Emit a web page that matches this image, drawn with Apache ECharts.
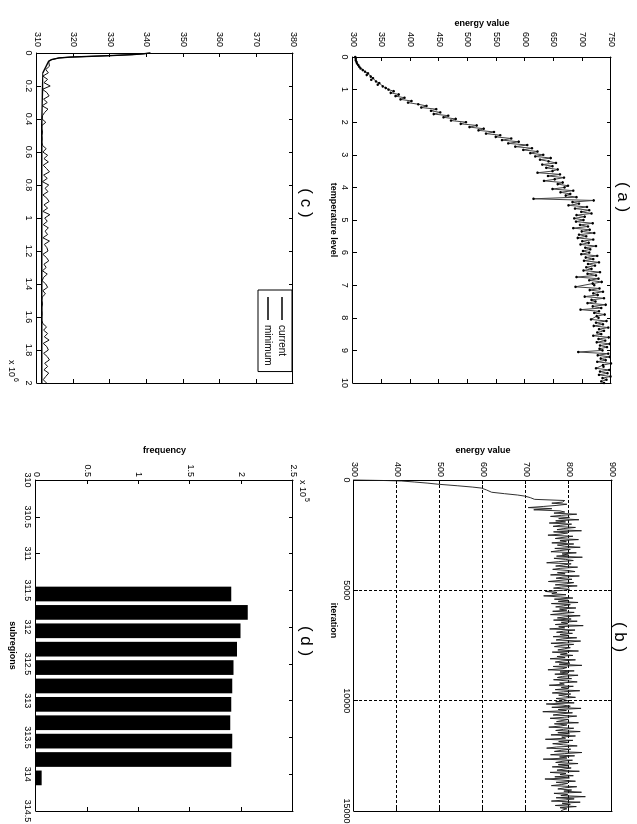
<!DOCTYPE html>
<html><head><meta charset="utf-8">
<script src="https://cdn.jsdelivr.net/npm/echarts@6/dist/echarts.min.js"></script>
<style>
html,body{margin:0;padding:0;background:#fff;overflow:hidden;width:637px;height:824px;}
#chart{position:absolute;left:0;top:0;width:824px;height:637px;transform-origin:0 0;transform:translate(637px,0) rotate(90deg);background:#fff;}
</style></head><body><div id="chart"></div>
<script>
// ---------- panel (a): energy value vs temperature level ----------
const aStep = 0.05;
const aEnergy = [
304,305,305,306,307,309,311,313,317,321,
326,324,331,335,332,340,346,343,352,357,
362,371,366,380,374,390,383,402,396,414,
428,419,445,436,452,441,466,458,479,471,
497,488,516,503,528,519,546,532,557,549,
576,560,589,571,604,583,612,597,622,609,
632,618,645,626,641,654,630,648,637,657,
648,622,661,640,668,652,633,666,657,675,
669,648,684,662,679,671,690,615,720,683,
694,676,708,687,712,698,716,690,704,686,
702,689,718,696,710,684,713,699,721,694,
707,692,719,700,711,697,724,705,714,701,
712,698,726,706,719,703,729,710,722,707,
716,702,731,709,724,690,728,712,734,718,
721,688,730,713,736,719,727,704,738,716,
723,709,741,718,733,697,729,721,739,725,
728,715,742,724,736,720,745,729,738,726,
733,719,746,728,740,725,748,731,743,730,
735,693,745,727,748,732,741,726,750,736,
737,724,747,731,744,729,749,735,742,733,
738];
const aXTicks = [0,1,2,3,4,5,6,7,8,9,10];
const aYTicks = [300,350,400,450,500,550,600,650,700,750];

// ---------- panel (b): energy value vs iteration ----------
const bEarlyIter   = [0, 10, 25, 45, 90, 140, 190, 260, 320, 365, 450, 555, 620, 680, 730, 800, 877, 930];
const bEarlyEnergy = [300,330,375,410,440,470,495,540,575,596,608,620,650,680,697,710,720,790];
const bStart = 1000, bStep = 50;
const bEnergy = [
785,760,795,772,740,705,760,718,779,790,765,818,783,757,801,776,823,769,792,754,
806,781,763,815,788,772,829,764,797,781,751,809,786,768,822,779,794,760,811,773,
789,826,767,803,778,758,817,784,799,771,831,765,792,810,776,748,805,787,769,820,
781,762,798,814,773,791,757,824,786,770,807,779,752,811,795,768,819,783,764,801,
788,745,772,760,793,741,780,809,766,798,775,821,759,803,787,769,816,778,795,762,
812,784,757,826,791,773,805,764,819,782,797,768,833,776,790,755,814,787,771,808,
779,799,763,818,785,770,827,794,758,811,781,766,803,789,774,822,761,796,780,809,
772,791,756,815,784,768,802,777,830,763,795,786,751,812,779,798,767,821,785,773,
806,764,793,819,778,789,754,810,782,799,768,825,787,761,804,776,792,815,770,788,
797,769,812,747,786,803,760,828,775,794,739,808,781,763,818,790,756,799,784,771,
822,766,795,780,753,811,787,769,826,774,801,758,815,783,792,745,809,776,797,762,
787,819,771,748,804,782,766,830,789,757,813,778,795,740,808,784,769,821,775,798,
761,805,788,772,824,756,793,779,810,767,801,744,786,815,770,797,783,759,818,790,
774,806,788,829,765,797,781,838,770,812,791,759,826,784,803,768,817,779,795,786,
781];
const bXTicks = [0,5000,10000,15000];
const bYTicks = [300,400,500,600,700,800,900];

// ---------- panel (c): current / minimum ----------
const cEarlyX       = [0,5000,10000,15000,20000,25000,30000,40000,50000,60000,80000];
const cEarlyCurrent = [341,339,336,331,325,319,316,314,313.2,312.8,313.4];
const cStart = 100000, cStep = 20000;
const cCurrent = [
312.4,313.1,311.6,312.9,311.9,313.6,311.5,312.7,313.3,311.8,
312.8,311.4,313.0,312.1,311.5,311.4,312.4,311.3,311.3,311.5,
311.3,311.4,311.3,311.5,312.5,311.6,312.9,311.9,313.1,311.7,
312.6,313.4,311.8,312.8,311.5,313.2,312.2,313.0,311.6,312.7,
313.3,311.9,312.9,311.6,313.5,312.1,312.8,311.7,313.1,312.2,
312.9,311.6,313.4,312.0,312.7,313.0,311.6,312.6,313.2,311.9,
312.5,311.5,312.8,311.8,311.4,312.4,312.9,311.6,312.3,311.4,
311.3,311.5,311.3,311.3,311.4,311.3,311.3,311.6,312.6,311.8,
312.9,312.0,313.3,311.7,312.7,313.1,311.8,312.8,313.4,312.1,
312.9,311.9,313.2,312.4,311.7,312.6];
const cMinX = [0,5000,10000,15000,20000,25000,30000,40000,50000,60000,120000,220000,320000,440000,2000000];
const cMinY = [341,339,336,331,325,319,316,314,313.2,312.8,311.6,311.5,311.4,311.3,311.3];
const cXTicks = [0,200000,400000,600000,800000,1000000,1200000,1400000,1600000,1800000,2000000];
const cYTicks = [310,320,330,340,350,360,370,380];
const cLegend = ['current','minimum'];

// ---------- panel (d): histogram of subregions ----------
const dCenters = [311.55,311.80,312.05,312.30,312.55,312.80,313.05,313.30,313.55,313.80,314.05];
const dFreq    = [190000,206000,199000,195500,192000,191000,190000,189000,191000,190000,5500];
const dXTicks = [310,310.5,311,311.5,312,312.5,313,313.5,314,314.5];
const dYTicks = [0,50000,100000,150000,200000,250000];

// ---------- build ----------
const FF = "'Liberation Sans', Arial, Helvetica, sans-serif";
const aData = aEnergy.map((v,i)=>[+(i*aStep).toFixed(3), v]);
const bData = bEarlyIter.map((t,i)=>[t,bEarlyEnergy[i]]).concat(bEnergy.map((v,i)=>[bStart+i*bStep, v]));
const cCurData = cEarlyX.map((t,i)=>[t,cEarlyCurrent[i]]).concat(cCurrent.map((v,i)=>[cStart+i*cStep, v]));
const cMinData = cMinX.map((t,i)=>[t,cMinY[i]]);
const dData = dCenters.map((c,i)=>[c,dFreq[i]]);
const dBarWidth = 0.2;
const plain = v => String(+(+v).toFixed(4));

const xAxes = [], yAxes = [];
function lineS(){return {color:'#000',width:1};}
function addAxes(g, xt, yt, o){
  const tick = {show:true,inside:true,length:4,lineStyle:lineS()};
  const lbl = (m,f)=>({show:true,margin:m,fontSize:9,color:'#000',fontFamily:FF,showMinLabel:true,showMaxLabel:true,formatter:f||plain});
  const nameStyle = Object.assign({fontSize:9,fontWeight:'bold',color:'#000',fontFamily:FF}, o.nsx||{});
  const grid = o.grid ? {show:true,lineStyle:{color:'#000',width:1,type:[3,2]}} : {show:false};
  const sx = {min:xt[0],max:xt[xt.length-1],interval:xt[1]-xt[0]};
  const sy = {min:yt[0],max:yt[yt.length-1],interval:yt[1]-yt[0]};
  xAxes.push(Object.assign({type:'value',gridIndex:g,position:'bottom',
    axisLine:{show:true,onZero:false,lineStyle:lineS()},axisTick:tick,
    axisLabel:lbl(o.xm,o.xf),splitLine:grid,
    name:o.xn||'',nameLocation:'middle',nameGap:o.xg||15,nameTextStyle:nameStyle},sx));
  xAxes.push(Object.assign({type:'value',gridIndex:g,position:'top',
    axisLine:{show:true,onZero:false,lineStyle:lineS()},axisTick:tick,
    axisLabel:{show:false},splitLine:{show:false}},sx));
  yAxes.push(Object.assign({type:'value',gridIndex:g,position:'left',
    axisLine:{show:true,onZero:false,lineStyle:lineS()},axisTick:tick,
    axisLabel:lbl(o.ym,o.yf),splitLine:grid,
    name:o.yn||'',nameLocation:'middle',nameGap:o.yg||25,
    nameTextStyle:{fontSize:9,fontWeight:'bold',color:'#000',fontFamily:FF}},sy));
  yAxes.push(Object.assign({type:'value',gridIndex:g,position:'right',
    axisLine:{show:true,onZero:false,lineStyle:lineS()},axisTick:tick,
    axisLabel:{show:false},splitLine:{show:false}},sy));
}
addAxes(0,aXTicks,aYTicks,{xm:4,ym:10,xn:'temperature level',xg:15,yn:'energy value',yg:27});
addAxes(1,bXTicks,bYTicks,{xm:3,ym:3,xn:'iteration',xg:16,yn:'energy value',yg:25,grid:true,nsx:{padding:[0,50,0,0]}});
addAxes(2,cXTicks,cYTicks,{xm:4,ym:6,xf:v=>String(+(v/1e6).toFixed(4))});
addAxes(3,dXTicks,dYTicks,{xm:4,ym:3,xn:'subregions',xg:19,yn:'frequency',yg:25,yf:v=>String(+(v/1e5).toFixed(4))});

function txt(x,y,s,size,align,va,extra){
  return {type:'text',x:x,y:y,z:100,style:Object.assign({text:s,fontSize:size,fontFamily:FF,fill:'#000',align:align||'center',verticalAlign:va||'middle'},extra||{})};
}

const option = {
  animation:false,
  backgroundColor:'#fff',
  grid:[
    {left:57,top:26,width:326,height:258,containLabel:false,outerBoundsMode:'none'},
    {left:480,top:25,width:331,height:258,containLabel:false,outerBoundsMode:'none'},
    {left:53,top:344,width:330,height:256,containLabel:false,outerBoundsMode:'none'},
    {left:480,top:344,width:331,height:257,containLabel:false,outerBoundsMode:'none'}
  ],
  xAxis:xAxes, yAxis:yAxes,
  legend:{data:cLegend.map(n=>({name:n,icon:'rect'})),left:290,top:345,orient:'vertical',itemWidth:23,itemHeight:1.5,itemGap:4,
    padding:[5,6,5,7],borderColor:'#000',borderWidth:1,backgroundColor:'#fff',
    itemStyle:{color:'#000',borderWidth:0},
    textStyle:{fontSize:10,color:'#000',fontFamily:FF}},
  series:[
    {type:'line',name:'a',xAxisIndex:0,yAxisIndex:0,data:aData,symbol:'circle',symbolSize:2.5,
      itemStyle:{color:'#000'},lineStyle:{color:'#444',width:1}},
    {type:'line',name:'b',xAxisIndex:2,yAxisIndex:2,data:bData,symbol:'none',
      lineStyle:{color:'#1a1a1a',width:0.9}},
    {type:'line',name:'current',xAxisIndex:4,yAxisIndex:4,data:cCurData,symbol:'none',
      itemStyle:{color:'#000'},lineStyle:{color:'#111',width:1}},
    {type:'line',name:'minimum',xAxisIndex:4,yAxisIndex:4,data:cMinData,symbol:'none',
      itemStyle:{color:'#000'},lineStyle:{color:'#000',width:1.4}},
    {type:'custom',name:'d',xAxisIndex:6,yAxisIndex:6,data:dData,encode:{x:0,y:1},
      renderItem:function(params,api){
        const c=api.value(0), f=api.value(1);
        const p0=api.coord([c-dBarWidth/2,f]);
        const p1=api.coord([c+dBarWidth/2,0]);
        return {type:'rect',shape:{x:p0[0],y:p0[1],width:p1[0]-p0[0],height:p1[1]-p0[1]},style:{fill:'#000'}};
      }}
  ],
  graphic:[
    txt(197,14,'( a )',17),
    txt(637,17,'( b )',17),
    txt(203,331,'( c )',17),
    txt(641,331,'( d )',17),
    txt(480,339,'x 10',9,'left','bottom'),
    txt(498,334,'5',7,'left','bottom'),
    txt(360,630,'x 10',9,'left','bottom'),
    txt(378,625,'6',7,'left','bottom')
  ]
};
const chart = echarts.init(document.getElementById('chart'),null,{renderer:'canvas'});
chart.setOption(option);
</script></body></html>
